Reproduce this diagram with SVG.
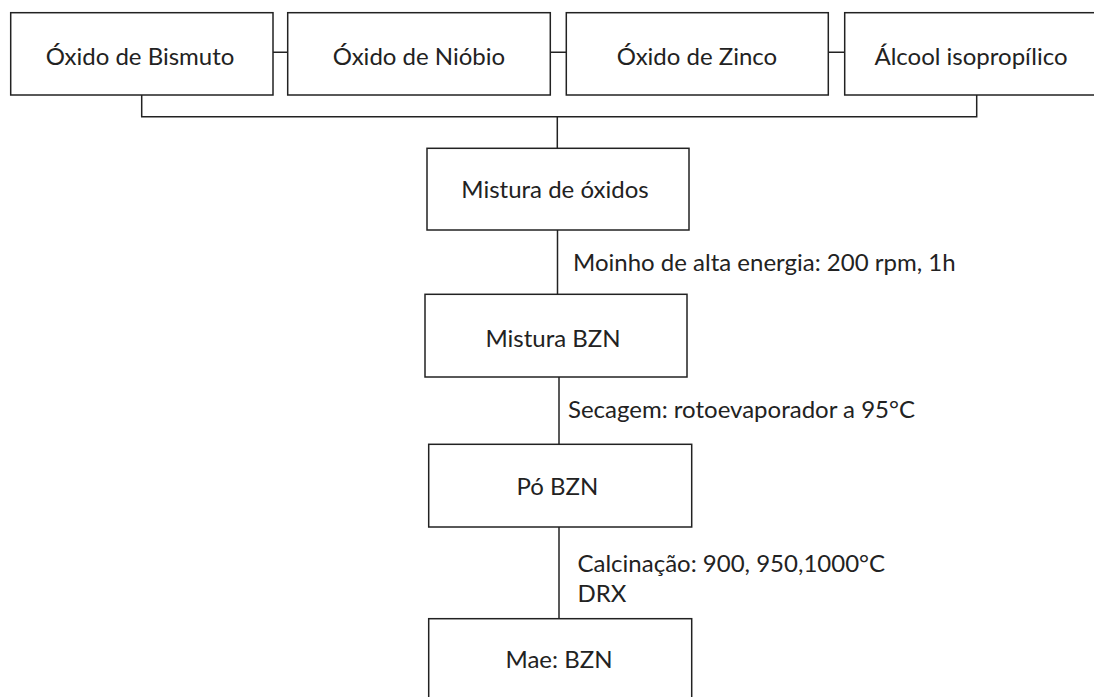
<svg xmlns="http://www.w3.org/2000/svg" width="1094" height="697" viewBox="0 0 1094 697">
<style>
.box{fill:#fff;stroke:#222;stroke-width:1.5}
.c{fill:none;stroke:#222;stroke-width:1.5}
text{font-family:Lato,"Open Sans",sans-serif;font-size:24px;fill:#222}
.m{text-anchor:middle}
</style>
<rect width="1094" height="697" fill="#fff"/>
<g id="connectors">
<path class="c" d="M273 52.3H287.7M550.3 52.3H566.3M828.3 52.3H844.7"/>
<path class="c" d="M141.7 95V116.7H976.7V95M557.3 116.7V148.3"/>
<path class="c" d="M557.5 230V294.3"/>
<path class="c" d="M559 377V444.3"/>
<path class="c" d="M559 527V618.7"/>
<text x="573" y="271">Moinho de alta energia: 200 rpm, 1h</text>
<text x="568" y="418">Secagem: rotoevaporador a 95°C</text>
<text x="577.5" y="571.7">Calcinação: 900, 950,1000°C</text>
<text x="577.5" y="601.7">DRX</text>
</g>
<g id="n1"><rect class="box" x="10.7" y="12.7" width="262.3" height="82.3"/><text class="m" x="140" y="65">Óxido de Bismuto</text></g>
<g id="n2"><rect class="box" x="287.7" y="12.7" width="262.6" height="82.3"/><text class="m" x="419" y="65">Óxido de Nióbio</text></g>
<g id="n3"><rect class="box" x="566.3" y="12.7" width="262" height="82.3"/><text class="m" x="697" y="65">Óxido de Zinco</text></g>
<g id="n4"><rect class="box" x="844.7" y="12.7" width="262" height="82.3"/><text class="m" x="971" y="65">Álcool isopropílico</text></g>
<g id="n5"><rect class="box" x="427" y="148.3" width="262" height="81.7"/><text class="m" x="555" y="198.3">Mistura de óxidos</text></g>
<g id="n6"><rect class="box" x="425" y="294.3" width="262" height="82.7"/><text class="m" x="553" y="346.7">Mistura BZN</text></g>
<g id="n7"><rect class="box" x="428.7" y="444.3" width="263" height="82.7"/><text class="m" x="557.5" y="495">Pó BZN</text></g>
<g id="n8"><rect class="box" x="428.7" y="618.7" width="263" height="90"/><text class="m" x="559" y="668.3">Mae: BZN</text></g>
</svg>
